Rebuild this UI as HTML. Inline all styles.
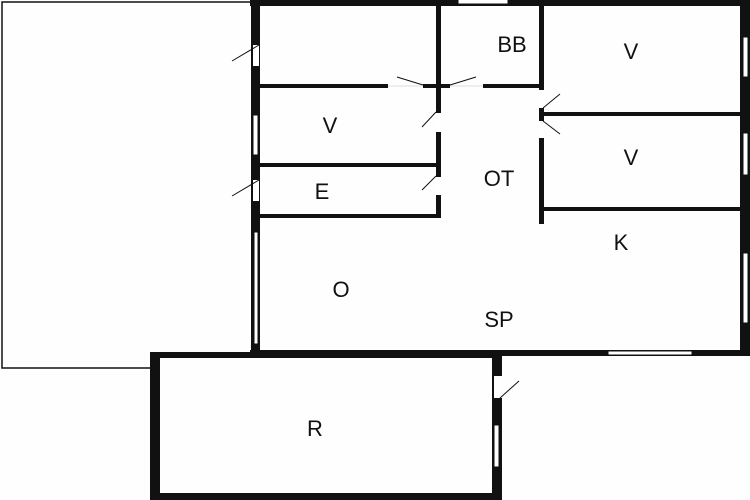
<!DOCTYPE html>
<html><head><style>body{margin:0;background:#fff}svg{display:block}</style></head><body>
<svg width="750" height="500" viewBox="0 0 750 500" xmlns="http://www.w3.org/2000/svg">
<rect width="750" height="500" fill="#fefefe"/>
<polyline points="250,2 2,2 2,368 150,368" fill="none" stroke="#111" stroke-width="1.5"/>
<g fill="#111">
<rect x="250" y="0" width="500" height="6"/>
<rect x="251" y="0" width="9" height="356"/>
<rect x="740" y="0" width="10" height="356"/>
<rect x="250" y="350" width="500" height="6"/>
<rect x="260" y="84" width="128" height="4"/>
<rect x="423" y="84" width="27" height="4"/>
<rect x="483" y="84" width="59" height="4"/>
<rect x="436" y="0" width="5" height="217"/>
<rect x="260" y="163" width="180" height="4"/>
<rect x="260" y="214" width="181" height="4"/>
<rect x="539" y="0" width="5" height="224"/>
<rect x="542" y="112" width="200" height="4"/>
<rect x="542" y="207" width="200" height="4"/>
<rect x="150" y="352" width="352" height="6"/>
<rect x="150" y="352" width="10" height="148"/>
<rect x="150" y="493" width="352" height="7"/>
<rect x="492" y="352" width="10" height="148"/>
</g>
<g fill="#fff" stroke="#111" stroke-width="1">
<rect x="458" y="-1" width="50" height="5"/>
<rect x="253" y="45" width="6" height="21" stroke="none"/>
<rect x="253" y="115" width="5" height="40"/>
<rect x="253" y="180" width="6" height="21" stroke="none"/>
<rect x="254" y="232" width="4" height="112"/>
<rect x="436" y="113" width="5" height="19" stroke="none"/>
<rect x="436" y="177" width="5" height="18" stroke="none"/>
<rect x="539" y="90" width="5" height="18" stroke="none"/>
<rect x="539" y="121" width="5" height="17" stroke="none"/>
<rect x="743" y="37" width="5" height="40"/>
<rect x="743" y="133" width="5" height="42"/>
<rect x="743" y="253" width="5" height="70"/>
<rect x="608" y="351" width="84" height="4"/>
<rect x="494" y="376" width="8" height="22" stroke="none"/>
<rect x="494" y="425" width="5" height="42"/>
</g>
<g stroke="#111" stroke-width="1" fill="none">
<line x1="259" y1="45" x2="232" y2="61"/>
<line x1="259" y1="180" x2="232" y2="196"/>
<line x1="436" y1="112" x2="422" y2="127"/>
<line x1="436" y1="176" x2="422" y2="190"/>
<line x1="423" y1="85" x2="397" y2="77"/>
<line x1="450" y1="85" x2="476" y2="77"/>
<line x1="543" y1="108" x2="560" y2="94"/>
<line x1="543" y1="121" x2="560" y2="134"/>
<line x1="500" y1="398" x2="519" y2="381"/>
<line x1="388" y1="86" x2="423" y2="86" stroke="#ddd"/>
<line x1="450" y1="86" x2="483" y2="86" stroke="#ddd"/>
</g>
<g font-family="Liberation Sans, sans-serif" font-size="22" fill="#111" text-anchor="middle">
<text x="512" y="52">BB</text>
<text x="631" y="59">V</text>
<text x="330" y="133">V</text>
<text x="631" y="165">V</text>
<text x="499" y="186">OT</text>
<text x="322" y="199">E</text>
<text x="621" y="250">K</text>
<text x="341" y="297">O</text>
<text x="499" y="327">SP</text>
<text x="315" y="436">R</text>
</g>
</svg>
</body></html>
